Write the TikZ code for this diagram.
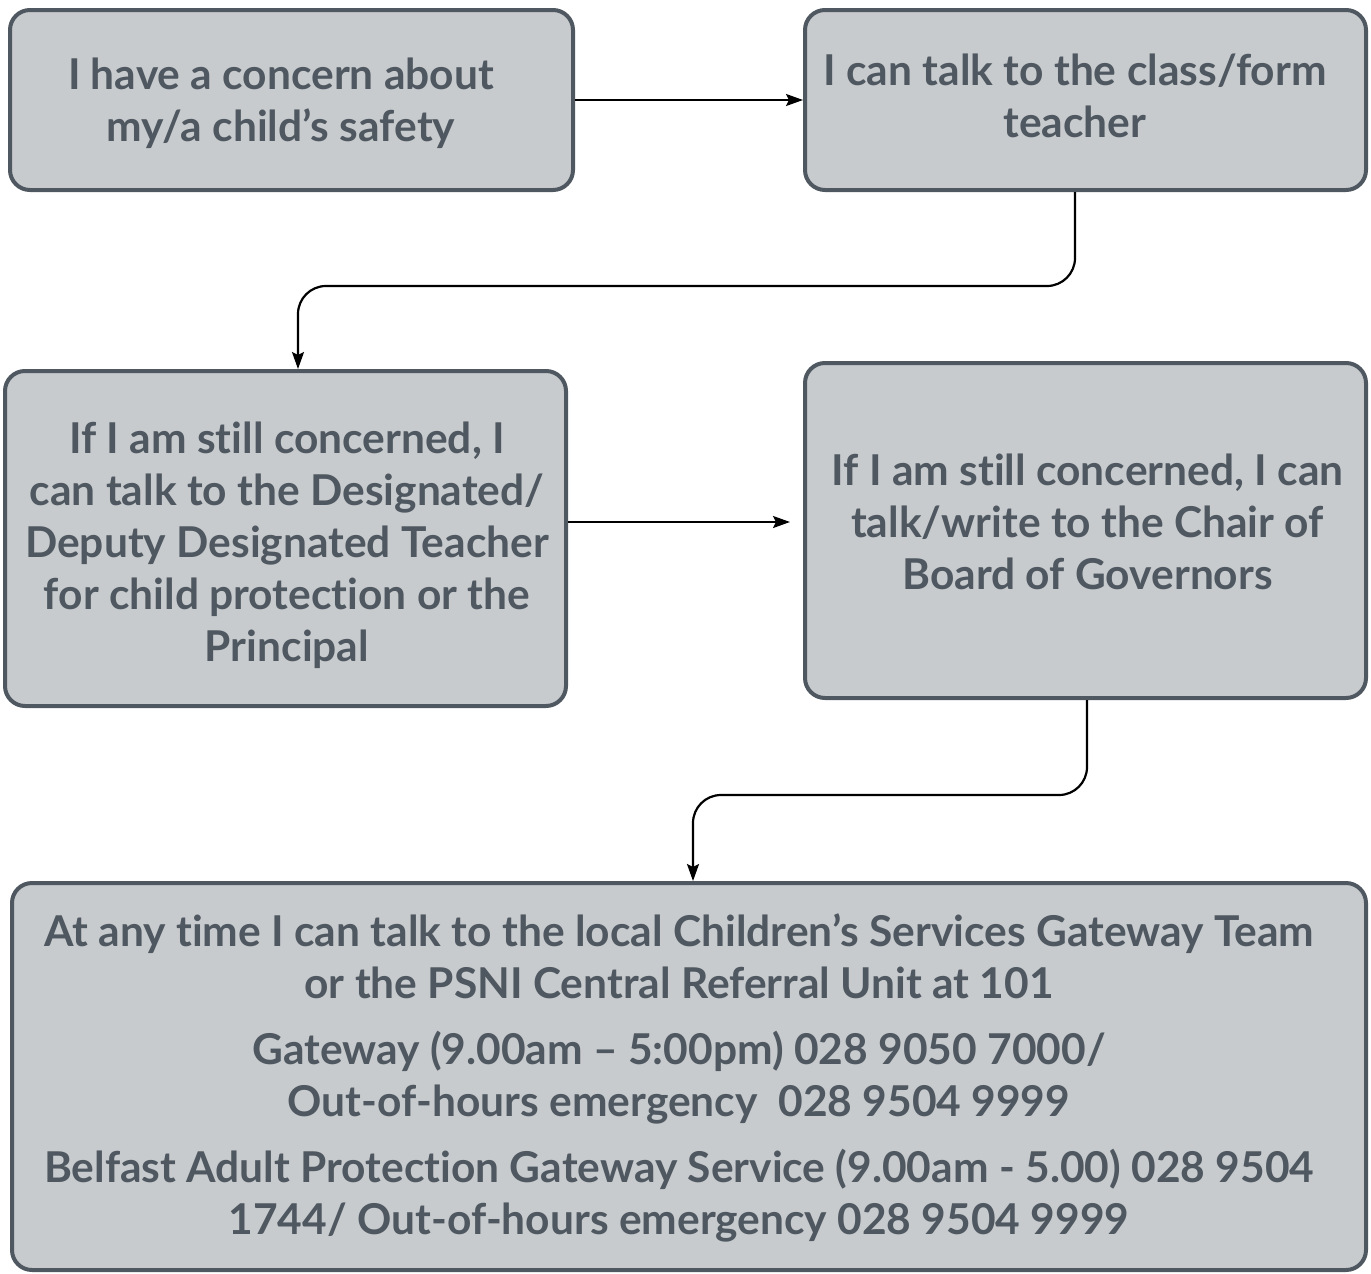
\documentclass[tikz,border=0pt]{standalone}
\usepackage{fontspec}
\setmainfont{Lato}[Ligatures={CommonOff}]
\usetikzlibrary{arrows.meta}
\definecolor{boxfill}{RGB}{200,203,206}
\definecolor{boxline}{RGB}{79,88,96}
\tikzset{
  stepbox/.style={draw=boxline, fill=boxfill, line width=4pt, rounded corners=20pt, inner sep=0pt},
  steptext/.style={inner sep=0pt, text=boxline, font=\fontsize{42.5}{52}\selectfont\bfseries, align=center},
  conn/.style={line width=2.2pt, -{Stealth[length=17pt,width=12pt,inset=3pt]}, rounded corners=28pt}
}
\begin{document}
\begin{tikzpicture}[x=1pt,y=-1pt]
\useasboundingbox (0,0) rectangle (1371,1274);
\node[stepbox, minimum width=563pt, minimum height=180pt] (b1) at (291.5,100) {};
\node[stepbox, minimum width=561pt, minimum height=180pt] (b2) at (1085.5,100) {};
\node[stepbox, minimum width=561pt, minimum height=335pt] (b3) at (285.5,538.5) {};
\node[stepbox, minimum width=561pt, minimum height=335pt] (b4) at (1085.5,530.5) {};
\node[stepbox, minimum width=1354pt, minimum height=387pt] (b5) at (689,1076.5) {};
\node[steptext] (t1) at (281,103) {I have a concern about\\my/a child’s safety};
\node[steptext] (t2) at (1075,96) {I can talk to the class/form\\teacher};
\node[steptext] (t3) at (287,545)
  {If I am still concerned, I\\can talk to the Designated/\\Deputy Designated Teacher\\for child protection or the\\Principal};
\node[steptext] (t4) at (1087.5,522)
  {If I am still concerned, I can\\talk/write to the Chair of\\Board of Governors};
\node[steptext] (t5) at (679,1077.5)
  {At any time I can talk to the local Children’s Services Gateway Team\\
   or the PSNI Central Referral Unit at 101\\[14pt]
   Gateway (9.00am – 5:00pm) 028 9050 7000/\\
   Out-of-hours emergency\ \ 028 9504 9999\\[14pt]
   Belfast Adult Protection Gateway Service (9.00am - 5.00) 028 9504\\
   1744/ Out-of-hours emergency 028 9504 9999};
\coordinate (m1) at (700,286);
\coordinate (m2) at (900,795);
\coordinate (a3) at (790,522);
\draw[conn] (b1.east) -- (b2.west);
\draw[conn] ([xshift=-10.5pt]b2.south) |- (m1) -| ([xshift=12.5pt]b3.north);
\draw[conn] ([yshift=16.5pt]b3.east) -- (a3);
\draw[conn] ([xshift=1.5pt]b4.south) |- (m2) -| ([xshift=4pt]b5.north);
\end{tikzpicture}
\end{document}
